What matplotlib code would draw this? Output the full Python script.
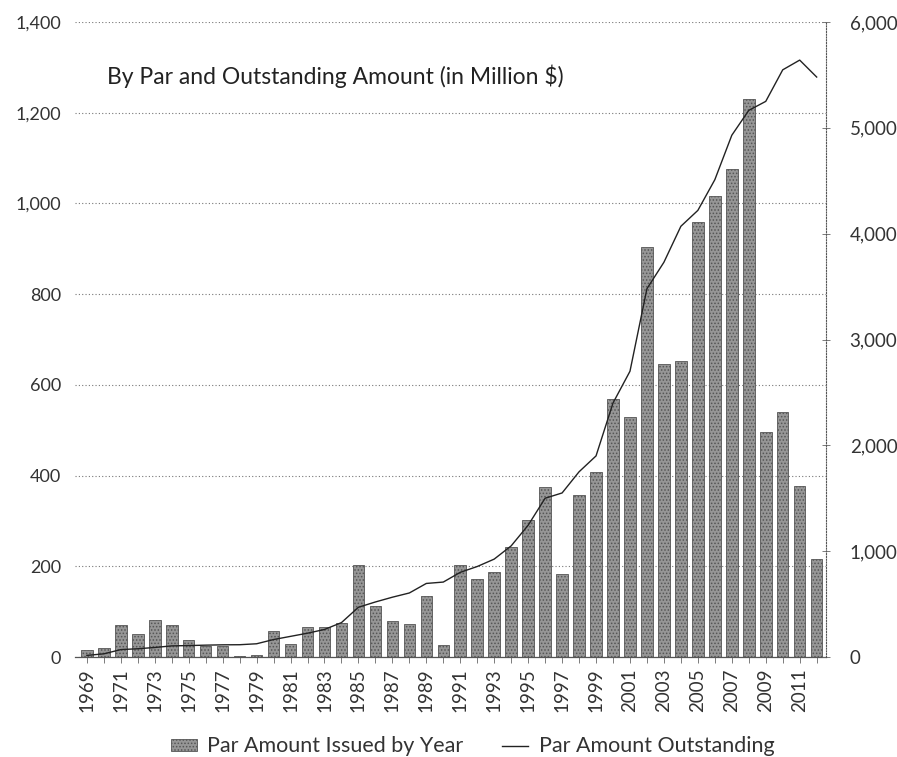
import matplotlib
matplotlib.use("Agg")
import matplotlib.pyplot as plt
from matplotlib.lines import Line2D
from matplotlib.patches import Patch

years = list(range(1969, 2013))
issued = [15, 20, 70, 50, 82, 71, 38, 25, 25, 3, 4, 58, 29, 67, 66, 75, 203, 112, 80, 73,
          134, 27, 203, 172, 188, 242, 302, 374, 182, 358, 408, 568, 530, 905, 645, 652,
          960, 1017, 1076, 1230, 497, 540, 376, 217]
outstanding = [15, 30, 70, 78, 90, 105, 108, 112, 115, 116, 125, 165, 195, 225, 260, 325,
               470, 520, 565, 605, 695, 708, 800, 855, 925, 1050, 1245, 1500, 1550, 1750,
               1900, 2400, 2700, 3480, 3730, 4070, 4220, 4510, 4930, 5165, 5250, 5548, 5640, 5480]
left_ticks = [0, 200, 400, 600, 800, 1000, 1200, 1400]
right_ticks = [0, 1000, 2000, 3000, 4000, 5000, 6000]
title = "By Par and Outstanding Amount (in Million $)"
bar_label = "Par Amount Issued by Year"
line_label = "Par Amount Outstanding"

plt.rcParams['font.family'] = ['Lato', 'DejaVu Sans']
plt.rcParams['hatch.color'] = '#4a4a4a'
plt.rcParams['hatch.linewidth'] = 0.7

fig = plt.figure(figsize=(8.97, 7.57), dpi=100)
ax = fig.add_axes([75/897, 1 - 657/757, (826-75)/897, (657-22)/757])
ax2 = ax.twinx()

ax.bar(years, issued, width=0.68, facecolor='#969696', edgecolor='#555555',
       hatch='.....', linewidth=0.6, zorder=2)
ax2.plot(years, outstanding, color='#222222', linewidth=1.0, zorder=3)

ax.set_xlim(1968.3, 2012.55)
ax.set_ylim(0, 1400)
ax2.set_ylim(0, 6000)

ax.set_yticks(left_ticks)
ax.set_yticklabels([f"{v:,}" for v in left_ticks], fontsize=13, color='#333333')
ax2.set_yticks(right_ticks)
ax2.set_yticklabels([f"{v:,}" for v in right_ticks], fontsize=13.5, color='#333333')

ax.set_xticks(years)
ax.set_xticklabels([str(y) if (y - 1969) % 2 == 0 else "" for y in years],
                   rotation=90, fontsize=13.5, color='#333333')

ax.grid(axis='y', linestyle=(0, (1, 2)), color='#777777', linewidth=0.8, zorder=0)
ax.set_axisbelow(True)

for a in (ax, ax2):
    for s in ('top', 'left', 'right', 'bottom'):
        a.spines[s].set_visible(False)
ax2.spines['right'].set_visible(True)
ax2.spines['right'].set_linestyle((0, (1, 1.5)))
ax2.spines['right'].set_color('#555555')
ax2.spines['right'].set_linewidth(0.8)
ax.spines['bottom'].set_visible(True)
ax.spines['bottom'].set_linestyle((0, (1, 1)))
ax.spines['bottom'].set_color('#555555')
ax.spines['bottom'].set_linewidth(0.9)

ax.tick_params(axis='y', length=0, pad=10)
ax.tick_params(axis='x', length=4, width=0.6, color='#666666', pad=4)
ax2.tick_params(axis='y', direction='inout', length=6, width=0.6, color='#666666', pad=14)

ax.text(0.043, 0.915, title, transform=ax.transAxes, fontsize=16.5,
        color='#222222', ha='left', va='center')

handles = [Patch(facecolor='#969696', edgecolor='#555555', hatch='.....', linewidth=0.6),
           Line2D([0], [0], color='#222222', linewidth=1.0)]
fig.legend(handles, [bar_label, line_label], loc='center', bbox_to_anchor=(0.527, 0.014),
           ncol=2, frameon=False, fontsize=15.5, handlelength=1.2, handleheight=0.45,
           columnspacing=1.8, handletextpad=0.5, labelcolor='#333333')

fig.savefig("out.png", dpi=100)
